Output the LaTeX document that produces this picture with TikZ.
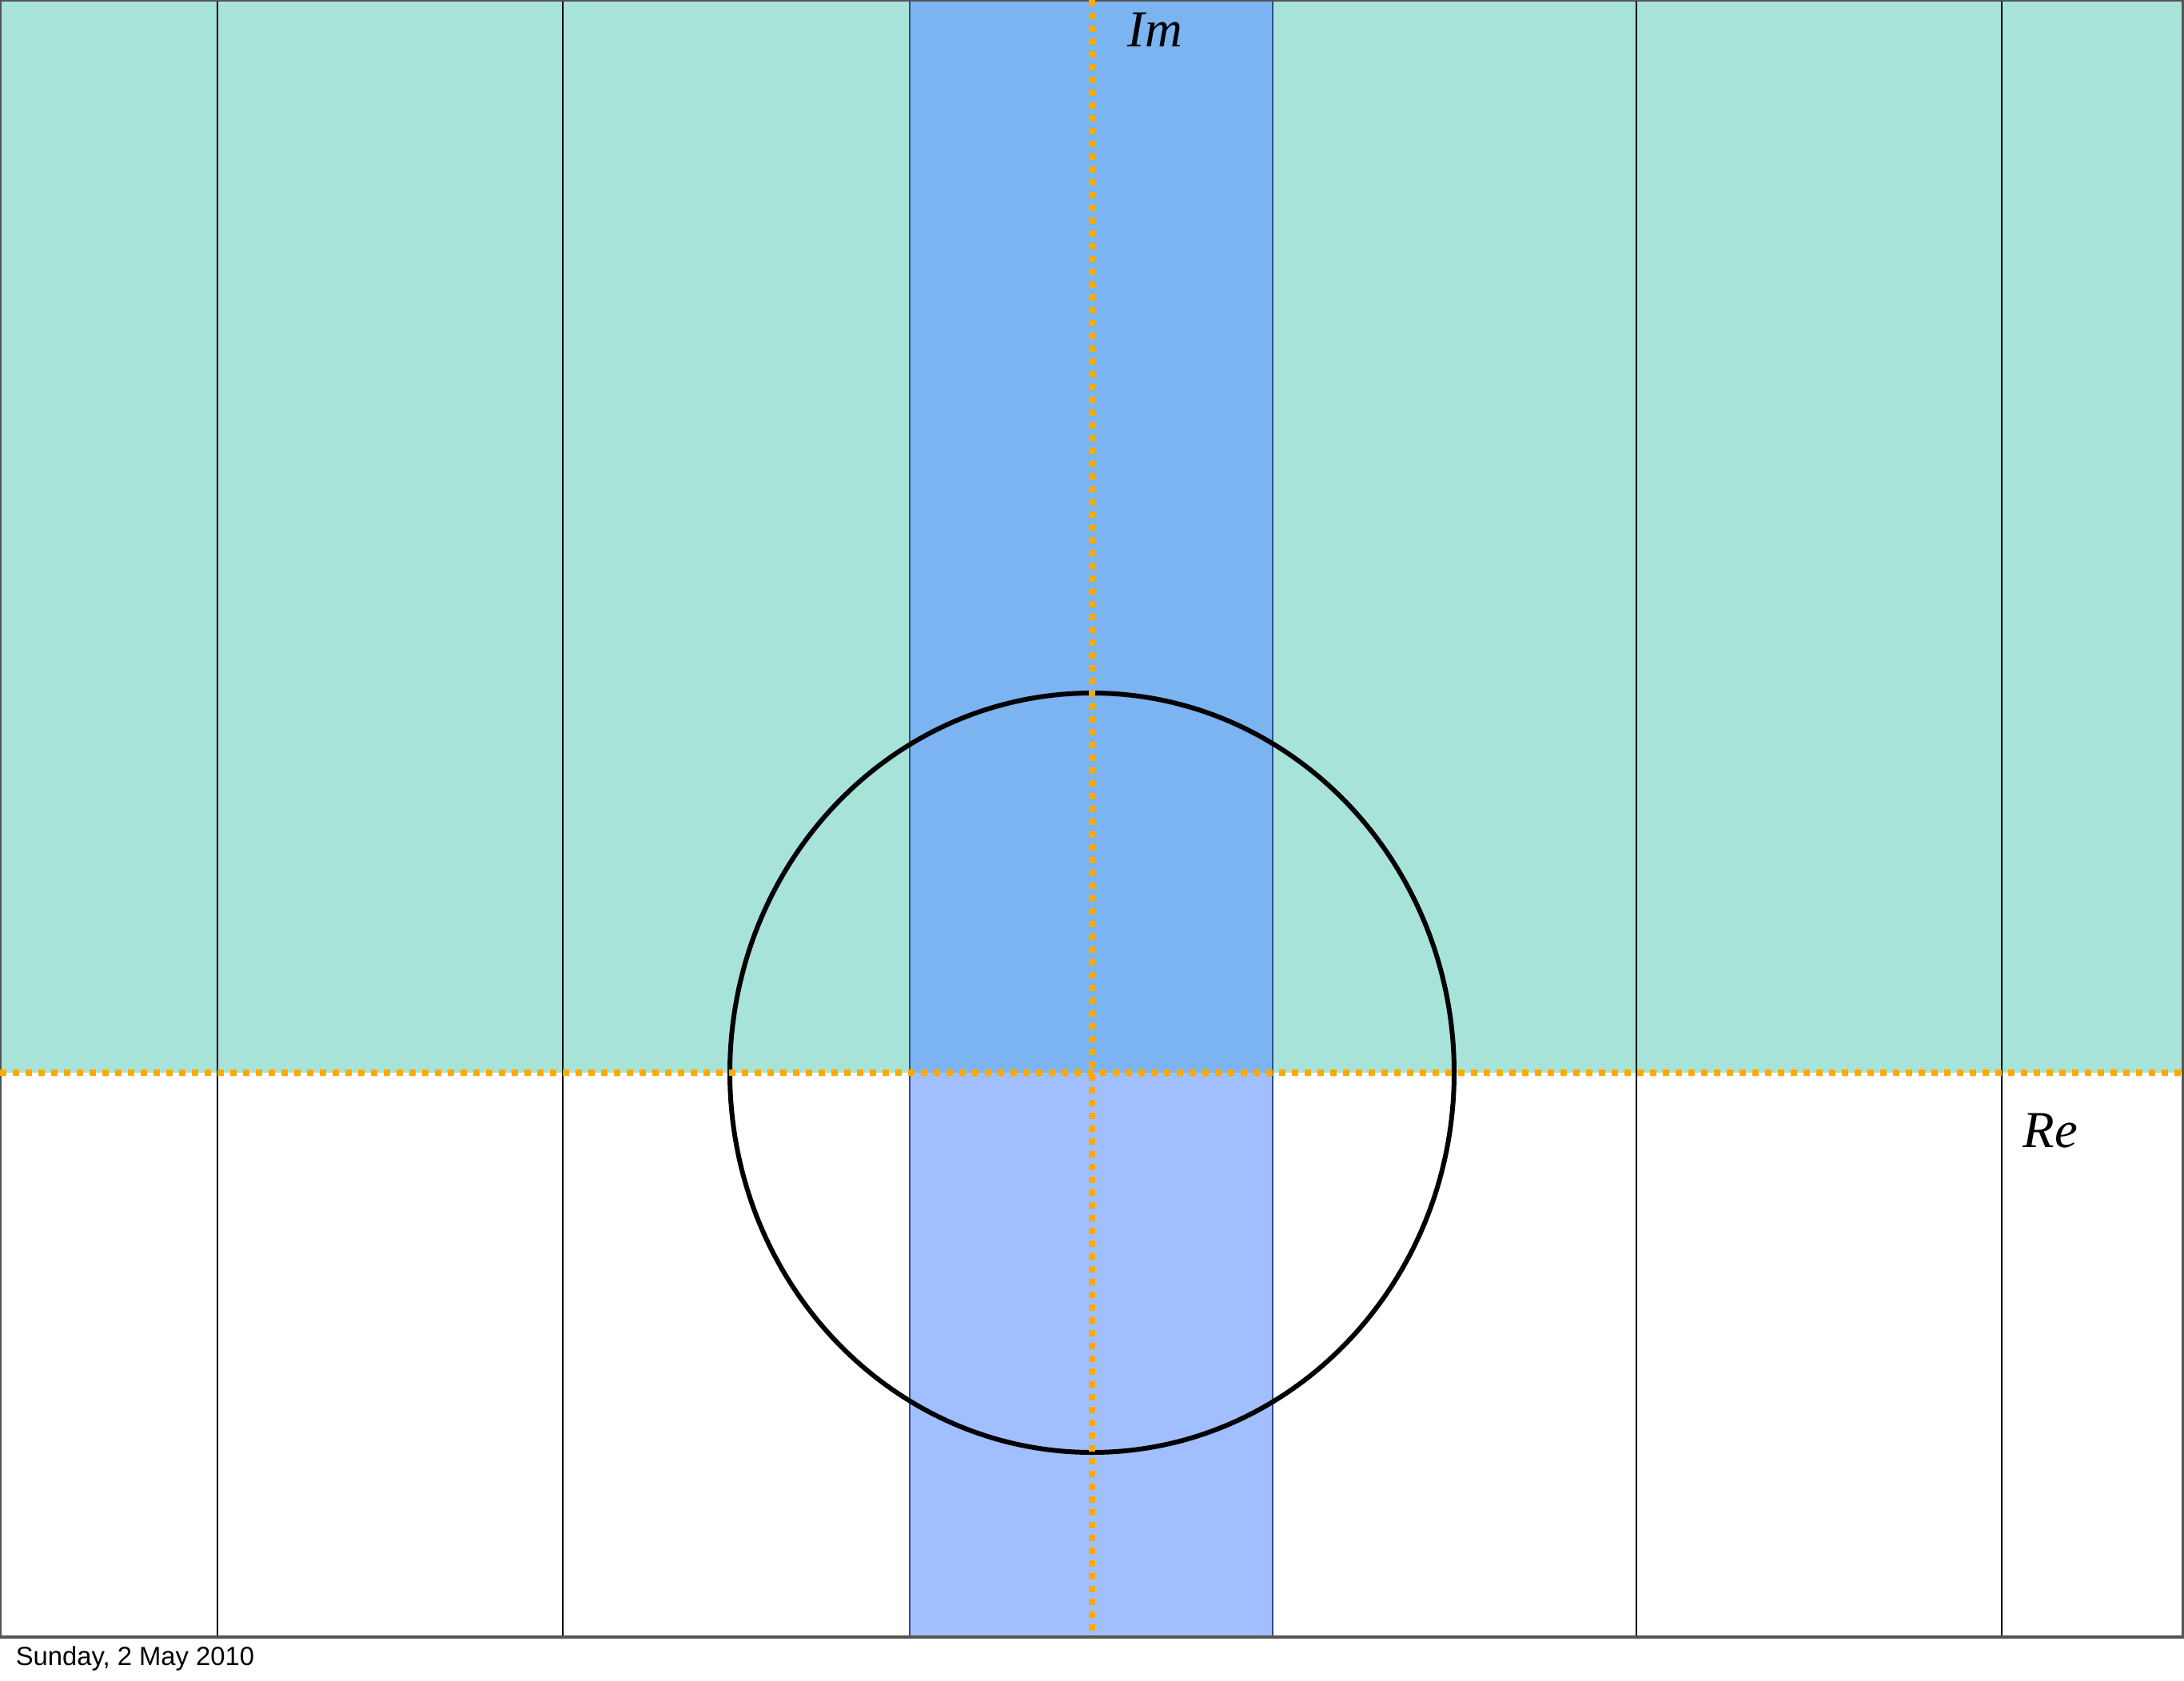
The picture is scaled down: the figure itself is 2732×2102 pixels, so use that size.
\documentclass[tikz,border=0pt]{standalone}
\usepackage{fontspec}
\setmainfont{Liberation Serif}
\newfontfamily\datefont{Liberation Sans}
\definecolor{tealfill}{HTML}{A8E3D9}
\definecolor{bluehatch}{HTML}{7BB4F1}
\definecolor{bluelow}{HTML}{A1BFFF}
\definecolor{bandedge}{HTML}{2E4C8E}
\definecolor{axisorange}{HTML}{FFAA00}
\definecolor{framegray}{HTML}{555555}
\begin{document}
\begin{tikzpicture}[x=0.25pt,y=-0.25pt,
  gridline/.style={draw=black,line width=0.6pt},
  bandline/.style={draw=bandedge,line width=0.7pt},
  axisline/.style={draw=axisorange,line width=2pt,dash pattern=on 2pt off 2pt},
  unitcircle/.style={draw=black,line width=1.5pt},
  axislabel/.style={font=\fontsize{16.2pt}{19pt}\selectfont\itshape,inner sep=0pt,anchor=base west},
  datelabel/.style={font=\datefont\fontsize{8.2pt}{10pt}\selectfont,inner sep=0pt,anchor=base west}]
\useasboundingbox (0,0) rectangle (2732,2102);
\fill[white] (0,0) rectangle (2732,2102);
% fills
\fill[tealfill] (0,0) rectangle (2731,1342);
\fill[bluehatch] (1138,0) rectangle (1592,1342);
\fill[bluelow] (1138,1342) rectangle (1592,2048);
% vertical grid lines
\foreach \gx in {272,704,2047,2504}
  \draw[gridline] (\gx,0) -- (\gx,2048);
\draw[bandline] (1138,0) -- (1138,2048);
\draw[bandline] (1592,0) -- (1592,2048);
% frame
\draw[framegray,line width=0.8pt] (0,0) rectangle (2731,2048);
% circle
\coordinate (O) at (1366,1342);
\draw[unitcircle] (O) ellipse [x radius=453, y radius=475];
% axes
\coordinate (reL) at (0,1342);
\coordinate (reR) at (2731,1342);
\coordinate (imT) at (1366,0);
\coordinate (imB) at (1366,2048);
\draw[axisline] (reL) -- (reR);
\draw[axisline] (imT) -- (imB);
% labels
\node[axislabel] (im) at (1410,58) {Im};
\node[axislabel] (re) at (2530,1435) {Re};
\node[datelabel] (date) at (19,2083) {Sunday, 2 May 2010};
\end{tikzpicture}
\end{document}
